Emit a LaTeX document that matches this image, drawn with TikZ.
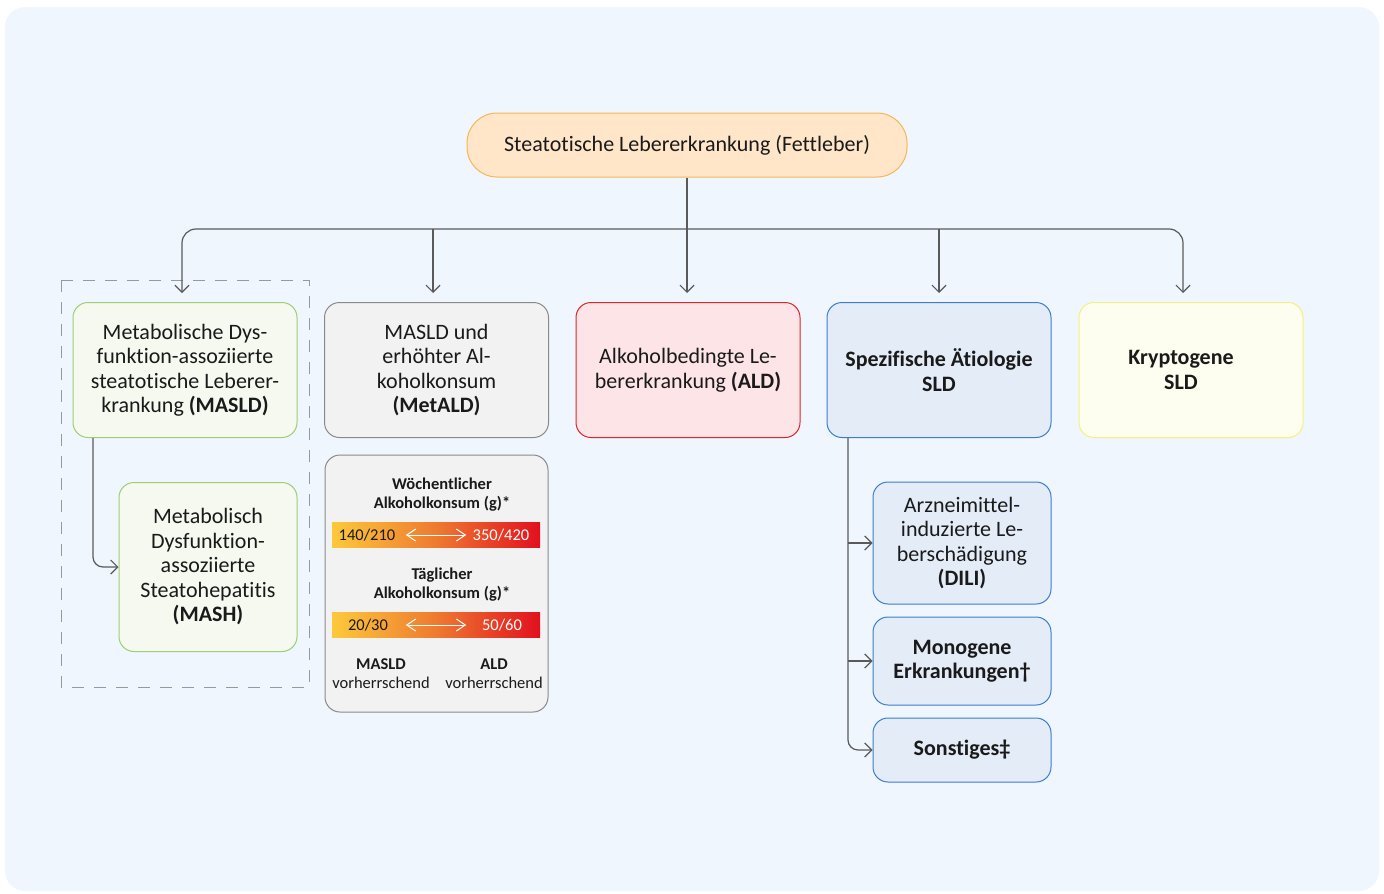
\documentclass[tikz,border=0pt]{standalone}
\usepackage{fontspec}
\setmainfont{Carlito}[Ligatures=NoCommon]
\usetikzlibrary{arrows.meta}
\definecolor{bgblue}{RGB}{239,246,254}
\definecolor{txt}{RGB}{26,26,26}
\definecolor{linegray}{RGB}{90,90,90}
\definecolor{topfill}{RGB}{255,230,201}
\definecolor{topline}{RGB}{246,182,84}
\definecolor{grfill}{RGB}{245,249,240}
\definecolor{grline}{RGB}{160,206,118}
\definecolor{gyfill}{RGB}{242,242,242}
\definecolor{gyline}{RGB}{138,138,138}
\definecolor{rdfill}{RGB}{253,229,231}
\definecolor{rdline}{RGB}{228,34,44}
\definecolor{blfill}{RGB}{228,236,248}
\definecolor{blline}{RGB}{61,125,208}
\definecolor{ylfill}{RGB}{253,254,240}
\definecolor{ylline}{RGB}{244,242,122}
\definecolor{barY}{RGB}{253,201,59}
\definecolor{barO}{RGB}{238,122,48}
\definecolor{barR}{RGB}{226,16,29}
\tikzset{
  box/.style={draw, line width=1pt, rounded corners=15pt, minimum width=224pt, minimum height=135pt, inner sep=0pt, align=center, text=txt, font=\fontsize{22}{24.5}\selectfont},
  boldbox/.style={box, font=\bfseries\fontsize{22}{24.5}\selectfont},
  subbox/.style={box, minimum width=178pt},
  flow/.style={draw=linegray, line width=1.2pt, -{Straight Barb[length=7pt,width=14pt]}},
  small/.style={align=center, text=txt, font=\fontsize{16.5}{19}\selectfont},
  smallbold/.style={small, font=\bfseries\fontsize{16.5}{19}\selectfont},
  twoway/.style={white, line width=1pt, {Straight Barb[length=9pt,width=12pt]}-{Straight Barb[length=9pt,width=12pt]}, shorten <=7pt, shorten >=3pt},
  gauge/.style={left color=barY, right color=barR, middle color=barO},
}
\begin{document}
\begin{tikzpicture}[x=1pt,y=-1pt]
  \useasboundingbox (0,0) rectangle (1384,894);
  \fill[bgblue, rounded corners=20pt] (5,7) rectangle (1379,891);
  \draw[gray!80, line width=1pt, dash pattern=on 12pt off 10pt] (61,280) rectangle (309,687);
  \node[box, fill=topfill, draw=topline, rounded corners=30pt, minimum width=440pt, minimum height=64pt] (top) at (687,145) {Steatotische Lebererkrankung (Fettleber)};
  \node[box, fill=grfill, draw=grline] (masld) at (185,370) {Metabolische Dys-\\funktion-assoziierte\\steatotische Leberer-\\krankung \textbf{(MASLD)}};
  \node[box, fill=gyfill, draw=gyline] (metald) at (436.5,370) {MASLD und\\erhöhter Al-\\koholkonsum\\\textbf{(MetALD)}};
  \node[box, fill=rdfill, draw=rdline] (ald) at (688,370) {Alkoholbedingte Le-\\bererkrankung \textbf{(ALD)}};
  \node[boldbox, fill=blfill, draw=blline] (spez) at (939,370) {Spezifische Ätiologie\\SLD};
  \node[boldbox, fill=ylfill, draw=ylline] (krypt) at (1191,370) {\hspace*{-20pt}Kryptogene\\\hspace*{-20pt}SLD};
  \node[subbox, fill=grfill, draw=grline, minimum height=169pt] (mash) at (208,567) {Metabolisch\\Dysfunktion-\\assoziierte\\Steatohepatitis\\\textbf{(MASH)}};
  \node[subbox, fill=blfill, draw=blline, minimum height=122pt] (dili) at (962,543) {Arzneimittel-\\induzierte Le-\\berschädigung\\\textbf{(DILI)}};
  \node[subbox, boldbox, minimum width=178pt, fill=blfill, draw=blline, minimum height=88pt] (mono) at (962,661) {Monogene\\Erkrankungen†};
  \node[subbox, boldbox, minimum width=178pt, fill=blfill, draw=blline, minimum height=64pt] (sonst) at (962,750) {Sonstiges‡};
  \node[box, fill=gyfill, draw=gyline, minimum width=223pt, minimum height=257pt] (scale) at (436.5,583.5) {};
  \shade[gauge] (332,522) rectangle (540,547);
  \shade[gauge] (332,612) rectangle (540,637);
  \node[smallbold] (weekhd) at (442,495) {Wöchentlicher\\Alkoholkonsum (g)*};
  \node[smallbold] (dayhd) at (442,585) {Täglicher\\Alkoholkonsum (g)*};
  \node[small] (wlo) at (367,535) {140/210};
  \node[small, text=white] (whi) at (501,535) {350/420};
  \node[small] (dlo) at (368,625) {20/30};
  \node[small, text=white] (dhi) at (502,625) {50/60};
  \draw[twoway] (wlo.east) -- (whi.west);
  \draw[twoway] (wlo.east |- dlo) -- (whi.west |- dhi);
  \node[small] (mpred) at (381,674) {\textbf{MASLD}\\vorherrschend};
  \node[small] (apred) at (494,674) {\textbf{ALD}\\vorherrschend};
  \coordinate (bus) at (687,229);
  \draw[flow, shorten >=9pt] (top.south) -- (top.south |- ald.north);
  \draw[flow, shorten >=9pt, rounded corners=14pt] (bus) -| ([xshift=-3pt]masld.north);
  \draw[flow, shorten >=9pt, rounded corners=14pt] (bus) -| ([xshift=-8pt]krypt.north);
  \draw[flow, shorten >=9pt] (bus -| metald.north) ++(-3.5,0) -- ([xshift=-3.5pt]metald.north);
  \draw[flow, shorten >=9pt] (bus -| spez.north) -- (spez.north);
  \draw[flow, rounded corners=10pt] ([xshift=-92pt]masld.south) |- (mash.west);
  \draw[flow, rounded corners=10pt] ([xshift=-91pt]spez.south) |- (sonst.west);
  \draw[flow] ([xshift=-91pt]spez.south |- dili.west) -- (dili.west);
  \draw[flow] ([xshift=-91pt]spez.south |- mono.west) -- (mono.west);
\end{tikzpicture}
\end{document}
